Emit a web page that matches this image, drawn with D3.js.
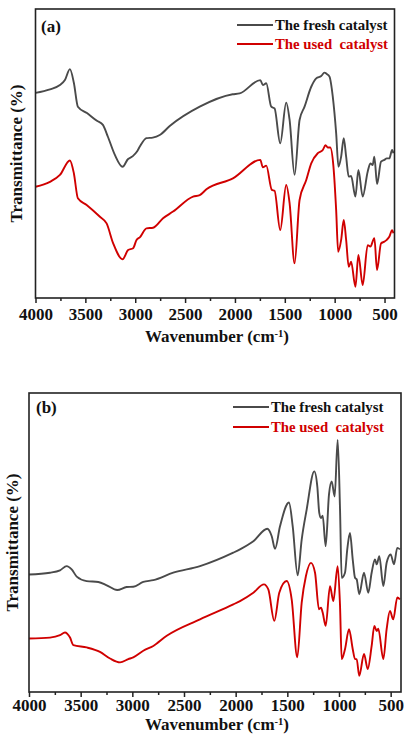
<!DOCTYPE html>
<html><head><meta charset="utf-8">
<script src="https://cdn.jsdelivr.net/npm/d3@7"></script>
<style>
html,body{margin:0;padding:0;background:#fff;}
svg{display:block;}
text{font-family:"Liberation Serif","Times New Roman",serif;font-weight:bold;}
</style></head>
<body>
<svg id="chart" width="404" height="736"></svg>
<script>
// ---- data ----
const xMajorTicks = [4000, 3500, 3000, 2500, 2000, 1500, 1000, 500];
const xMinorTicks = [3750, 3250, 2750, 2250, 1750, 1250, 750];
const seriesNames = ["The fresh catalyst", "The used  catalyst"];
const panelLabels = ["(a)", "(b)"];

// panel (a): [wavenumber, transmittance (a.u.)]
const freshA = [[4000,71.0],[3855,72.2],[3755,73.7],[3705,75.4],[3655,79.2],[3615,74.4],[3575,66.2],[3484,64.0],[3384,61.3],[3324,59.9],[3274,55.8],[3204,49.5],[3127,45.4],[3074,48.0],[3024,49.1],[2984,50.6],[2954,52.4],[2887,55.3],[2824,55.5],[2754,56.4],[2654,59.5],[2353,66.2],[2023,70.5],[1953,70.8],[1746,75.4],[1720,73.7],[1686,74.3],[1636,66.2],[1603,65.6],[1546,53.5],[1486,67.6],[1452,61.6],[1402,42.6],[1352,61.6],[1302,66.2],[1235,73.1],[1185,76.0],[1135,76.8],[1102,78.0],[1079,77.5],[1052,76.6],[1019,69.7],[985,57.0],[962,45.4],[935,48.9],[909,55.3],[885,48.9],[859,42.0],[835,42.2],[792,35.1],[762,44.3],[719,35.1],[669,43.7],[642,46.6],[619,46.0],[602,48.9],[575,39.4],[535,47.2],[501,47.8],[478,48.3],[452,48.3],[424,51.2],[411,50.1]];
const usedA = [[4000,38.5],[3855,40.2],[3755,42.6],[3655,47.6],[3615,43.1],[3575,34.5],[3487,32.2],[3354,28.1],[3287,25.8],[3221,18.9],[3127,13.4],[3071,16.6],[3021,17.2],[2987,20.1],[2954,21.0],[2887,24.1],[2821,24.3],[2721,27.6],[2621,29.9],[2420,35.1],[2353,35.6],[2286,37.6],[2020,41.4],[1746,47.8],[1720,45.2],[1686,45.8],[1630,37.4],[1603,37.1],[1546,23.5],[1486,39.1],[1452,32.8],[1402,12.0],[1352,33.9],[1285,40.8],[1235,46.6],[1169,50.1],[1119,51.2],[1092,52.9],[1069,52.1],[1045,52.1],[1012,45.4],[985,30.4],[965,16.0],[935,20.1],[909,27.0],[885,20.1],[859,10.8],[835,12.6],[792,3.9],[762,14.9],[719,4.5],[669,18.3],[642,17.8],[602,20.7],[575,9.7],[535,18.9],[501,19.5],[478,20.1],[452,21.2],[424,23.5],[411,22.4]];

// panel (b)
const freshB = [[4000,39.3],[3797,39.9],[3700,40.7],[3635,42.1],[3587,41.0],[3538,38.6],[3442,37.1],[3329,36.8],[3248,35.7],[3146,34.1],[3055,35.1],[2991,35.2],[2894,36.8],[2797,37.4],[2604,39.9],[2345,42.1],[2023,46.6],[1958,47.7],[1829,50.4],[1694,54.6],[1651,52.1],[1619,47.9],[1571,55.4],[1484,63.4],[1448,55.4],[1400,39.0],[1361,51.0],[1313,61.0],[1239,73.8],[1210,68.8],[1191,59.9],[1174,58.2],[1158,59.0],[1129,48.8],[1097,66.0],[1071,70.4],[1042,65.4],[1013,84.3],[990,61.0],[974,38.2],[942,39.9],[920,47.7],[894,53.2],[867,44.3],[845,38.2],[829,37.7],[804,32.7],[758,39.9],[717,33.2],[684,39.9],[652,44.3],[635,42.7],[610,45.4],[571,35.4],[539,43.2],[500,46.0],[468,42.7],[436,48.2],[410,47.7]];
const usedB = [[4000,17.9],[3797,18.2],[3700,19.0],[3652,19.9],[3603,18.2],[3571,15.7],[3442,14.9],[3313,13.4],[3216,11.2],[3119,9.9],[3039,11.0],[2991,11.6],[2894,13.8],[2797,15.4],[2667,18.8],[2345,24.3],[2023,29.3],[1958,30.4],[1829,33.2],[1726,36.0],[1684,34.3],[1626,23.8],[1578,33.2],[1506,37.1],[1458,31.0],[1404,11.6],[1361,29.9],[1320,38.8],[1271,43.2],[1232,39.9],[1194,27.7],[1174,28.2],[1158,26.6],[1129,22.1],[1087,35.4],[1055,30.4],[1013,42.1],[990,28.8],[974,11.0],[942,14.3],[903,21.0],[867,14.3],[845,11.0],[829,11.0],[804,5.4],[758,12.7],[722,7.7],[684,15.4],[658,22.1],[635,20.4],[620,21.2],[571,11.0],[539,21.0],[507,27.1],[475,24.3],[436,31.6],[410,31.0]];

// ---- drawing ----
const svg = d3.select("#chart");
const colors = ["#4a4a4a", "#d00000"];

const panels = [
  {label: panelLabels[0], series: [freshA, usedA], box: {l: 35.5, r: 394.5, t: 9, b: 298},
   labX: 41, labY: 32, legX: 237, legY: [25, 44], ylabX: 22, xTitleY: 342, pad: 5},
  {label: panelLabels[1], series: [freshB, usedB], box: {l: 29, r: 401, t: 393, b: 692},
   labX: 36, labY: 413, legX: 233, legY: [407, 427], ylabX: 18, xTitleY: 730, pad: 2}
];

panels.forEach(p => {
  const b = p.box;
  const x = d3.scaleLinear().domain([4000, 400]).range([b.l, b.r]);
  const y = d3.scaleLinear().domain([0, 100]).range([b.b, b.t]);
  const g = svg.append("g");

  // lines
  const line = d3.line().x(d => x(d[0])).y(d => y(d[1])).curve(d3.curveMonotoneX);
  p.series.forEach((s, i) => {
    g.append("path").datum(s).attr("d", line)
      .attr("fill", "none").attr("stroke", colors[i]).attr("stroke-width", 1.9)
      .attr("stroke-linejoin", "round");
  });

  // frame
  g.append("rect").attr("x", b.l).attr("y", b.t).attr("width", b.r - b.l).attr("height", b.b - b.t)
    .attr("fill", "none").attr("stroke", "#222").attr("stroke-width", 1.6);

  // x axis
  const ax = d3.axisBottom(x).tickValues(xMajorTicks).tickSize(5).tickPadding(p.pad).tickFormat(d3.format("d"));
  const axG = g.append("g").attr("transform", `translate(0,${b.b})`).call(ax);
  axG.select(".domain").remove();
  axG.selectAll(".tick line").attr("stroke", "#222").attr("stroke-width", 1.5);
  axG.selectAll(".tick text").attr("fill", "#111").style("font-size", "17px")
    .style("font-family", '"Liberation Serif","Times New Roman",serif').style("font-weight", "bold");
  const mn = d3.axisBottom(x).tickValues(xMinorTicks).tickSize(3).tickFormat("");
  const mnG = g.append("g").attr("transform", `translate(0,${b.b})`).call(mn);
  mnG.select(".domain").remove();
  mnG.selectAll(".tick line").attr("stroke", "#222").attr("stroke-width", 1.5);

  // x title
  const xt = g.append("text").attr("x", (b.l + b.r) / 2 + 2).attr("y", p.xTitleY)
    .attr("text-anchor", "middle").style("font-size", "17px").attr("fill", "#111");
  xt.append("tspan").text("Wavenumber (cm");
  xt.append("tspan").text("-1").attr("dy", -5).style("font-size", "10.5px");
  xt.append("tspan").text(")").attr("dy", 5);

  // y title
  g.append("text").attr("transform", `translate(${p.ylabX},${(b.t + b.b) / 2}) rotate(-90)`)
    .attr("text-anchor", "middle").style("font-size", "17px").attr("fill", "#111")
    .text("Transmittance (%)");

  // panel label
  g.append("text").attr("x", p.labX).attr("y", p.labY).style("font-size", "17px").attr("fill", "#111").text(p.label);

  // legend
  seriesNames.forEach((n, i) => {
    g.append("line").attr("x1", p.legX).attr("x2", p.legX + 36).attr("y1", p.legY[i]).attr("y2", p.legY[i])
      .attr("stroke", colors[i]).attr("stroke-width", 2);
    g.append("text").attr("x", p.legX + 38).attr("y", p.legY[i] + 5).style("font-size", "14.8px")
      .style("white-space", "pre").attr("fill", i === 0 ? "#111" : colors[1]).text(n);
  });
});
</script>
</body></html>
